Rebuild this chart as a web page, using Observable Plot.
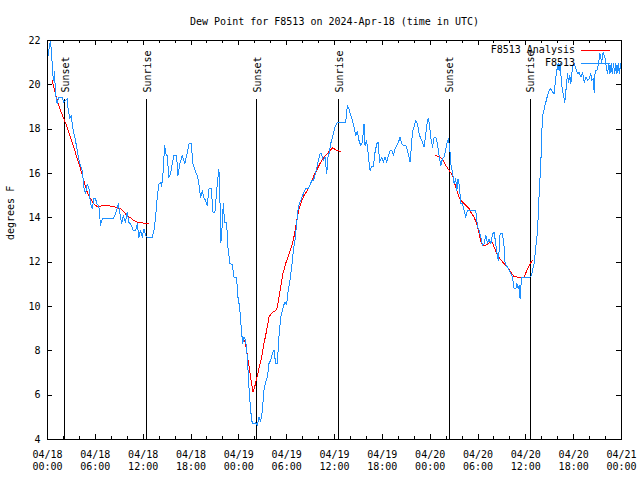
<!DOCTYPE html>
<html><head><meta charset="utf-8">
<script src="https://cdn.jsdelivr.net/npm/d3@7"></script>
<script src="https://cdn.jsdelivr.net/npm/@observablehq/plot@0.6"></script>
<style>body{margin:0;background:#fff}svg{display:block}</style>
</head><body><div id="chart"></div>
<script>
const title = "Dew Point for F8513 on 2024-Apr-18 (time in UTC)";
const yLabel = "degrees F";
const startTime = "2024-04-18T00:00:00Z";
const endTime = "2024-04-21T00:00:00Z";
const yTicks = [4, 6, 8, 10, 12, 14, 16, 18, 20, 22];
const seriesNames = ["F8513 Analysis", "F8513"];
const seriesColors = ["#ff0000", "#1e90ff"];
const eventHours = [2.17, 12.46, 26.27, 36.56, 50.37, 60.54];
const eventLabels = ["Sunset", "Sunrise", "Sunset", "Sunrise", "Sunset", "Sunrise"];

// F8513 observations (hours since start, degrees F)
const obsHours = [0.04,0.19,0.38,0.48,0.59,0.69,0.79,0.88,1.00,1.22,1.42,1.85,2.05,2.26,2.47,2.55,2.80,2.97,3.23,3.51,3.80,4.05,4.36,4.56,4.77,4.98,5.18,5.40,5.61,5.81,6.02,6.24,6.44,6.65,6.87,7.28,8.16,8.32,8.66,8.87,9.08,9.29,9.50,9.79,10.00,10.20,10.42,10.76,11.05,11.26,11.46,11.67,11.89,12.09,12.30,12.51,13.14,13.34,13.56,13.77,13.97,14.18,14.31,14.52,14.69,14.85,15.02,15.23,15.44,15.65,15.85,16.19,16.36,16.61,16.91,17.11,17.23,17.54,17.74,18.04,18.24,18.58,18.79,18.99,19.20,19.42,19.62,19.83,20.05,20.25,20.55,20.75,21.00,21.21,21.38,21.50,21.63,21.75,21.93,22.05,22.22,22.47,22.63,22.88,23.18,23.38,23.72,23.89,24.10,24.31,24.48,24.64,24.85,25.07,25.27,25.48,25.69,25.89,26.11,26.32,26.52,26.74,26.95,27.15,27.36,27.58,27.78,27.99,28.20,28.41,28.62,28.83,29.03,29.25,29.46,29.75,30.00,30.16,30.41,30.63,30.84,31.04,31.25,31.42,31.59,31.84,32.10,32.38,32.67,32.92,33.14,33.35,33.55,33.76,33.98,34.18,34.35,34.61,34.81,35.02,35.18,35.36,35.52,35.74,35.94,36.15,36.36,37.41,37.62,37.82,38.03,38.25,38.45,38.66,38.87,39.07,39.29,39.50,39.70,39.83,40.00,40.13,40.33,40.46,40.63,40.88,41.05,41.30,41.46,41.67,41.92,42.14,42.34,42.55,42.71,42.97,43.18,43.39,43.59,43.81,44.02,44.22,44.43,44.65,44.94,45.15,45.35,45.48,45.65,45.78,45.98,46.19,46.41,46.61,46.82,47.03,47.23,47.45,47.66,47.79,47.95,48.07,48.29,48.49,48.70,48.92,49.12,49.33,49.54,49.74,49.96,50.17,50.30,50.46,50.59,50.80,51.00,51.21,51.34,51.50,51.68,51.84,52.05,52.25,52.47,52.68,53.72,53.94,54.14,54.35,54.56,54.76,54.98,55.19,55.39,55.61,55.82,56.02,56.23,56.45,56.57,56.77,57.07,57.28,57.40,57.70,57.90,58.12,58.33,58.53,58.74,58.87,59.03,59.16,59.28,59.46,60.54,60.71,60.84,61.04,61.25,61.47,61.67,61.88,62.01,62.13,62.30,62.51,62.72,62.92,63.14,63.35,63.55,63.76,63.89,64.05,64.18,64.30,64.48,64.68,64.89,65.11,65.23,65.36,65.52,65.65,65.86,66.06,66.27,66.49,66.69,66.90,67.12,67.32,67.53,67.74,67.94,68.16,68.28,68.45,68.57,68.70,68.91,69.12,69.29,69.50,69.70,69.91,70.04,70.25,70.42,70.54,70.71,70.83,71.01,71.14,71.30,71.43,71.59,71.72,71.89,71.99];
const obsValues = [21.25,21.6,22.0,21.5,20.95,20.4,20.2,20.6,19.6,19.15,19.45,19.45,19.2,19.3,19.37,19.0,18.47,18.6,17.94,17.49,16.9,16.44,16.14,15.38,15.08,15.53,15.38,14.63,14.42,14.86,14.86,14.6,14.55,13.66,13.96,13.96,13.96,14.0,14.33,14.63,14.2,13.73,14.1,13.8,14.25,13.8,13.73,13.43,13.43,13.73,13.13,13.43,13.13,13.5,13.2,13.13,13.13,13.4,14.03,14.93,15.53,15.6,15.4,16.14,17.26,16.9,16.8,15.83,15.98,16.44,16.81,16.81,15.9,16.44,16.81,16.6,16.44,16.96,17.34,17.34,16.44,16.06,15.9,15.53,14.93,15.23,14.9,14.78,14.56,15.31,15.31,14.26,14.26,15.16,15.83,16.21,14.8,12.9,13.73,14.63,13.8,13.8,12.68,11.93,11.9,11.33,11.3,10.42,9.97,9.0,8.32,8.62,8.5,7.71,6.36,5.31,4.71,4.71,4.75,4.63,5.01,4.8,5.31,6.21,6.59,6.8,7.42,7.57,7.87,8.02,7.42,7.42,8.62,9.52,9.82,10.2,10.1,10.65,11.17,11.77,12.53,12.98,13.73,14.33,14.63,14.86,15.1,15.31,15.31,15.46,15.68,15.68,15.91,16.21,16.59,16.89,16.9,16.59,16.75,15.98,16.75,16.96,17.34,17.64,17.94,18.17,18.32,18.32,19.07,18.9,18.62,18.4,18.09,17.72,17.9,17.49,17.26,17.4,18.24,17.26,17.49,17.26,16.51,16.14,16.3,16.3,16.89,17.34,17.4,16.51,16.74,16.51,16.74,16.51,16.74,17.04,17.04,16.81,17.11,17.26,17.4,17.64,17.34,17.26,17.26,17.04,16.74,16.51,17.26,17.87,18.1,18.39,18.24,17.79,17.57,17.41,17.19,17.79,18.39,18.5,18.1,17.64,17.19,17.64,17.64,17.34,16.81,16.36,16.66,16.74,17.11,17.49,17.56,17.11,16.44,16.06,15.53,15.76,15.23,15.76,15.38,14.63,14.63,14.33,14.03,14.33,14.33,13.58,13.43,13.13,12.75,12.83,13.2,12.83,13.05,12.83,13.28,13.35,12.83,12.23,12.08,13.28,13.28,12.68,11.93,11.78,11.63,11.48,11.33,10.8,10.8,11.03,10.8,10.95,10.35,11.33,11.33,11.4,11.63,11.93,12.68,13.43,15.08,16.44,17.94,18.62,18.92,19.22,19.52,19.74,19.82,19.67,19.6,20.35,20.65,20.95,20.65,20.95,20.05,19.6,19.22,20.05,20.5,20.12,20.42,20.05,20.8,20.95,20.72,20.5,20.57,20.35,20.57,20.12,20.35,20.2,20.27,20.5,20.2,20.27,19.67,20.65,20.65,20.95,21.4,21.02,21.47,21.25,20.95,20.5,20.95,20.5,20.95,20.5,20.95,20.5,20.95,20.5,20.95,20.5,20.95,20.5];

// F8513 Analysis (null separates segments)
const anaHours = [0.59,0.79,1.22,1.63,2.05,2.47,2.89,3.30,3.73,4.14,4.56,4.98,5.40,5.81,6.24,6.65,7.49,8.32,9.16,9.58,10.00,10.42,10.83,11.26,12.09,12.72,null,24.73,24.94,25.23,25.48,25.77,25.98,26.23,26.52,26.82,27.15,27.49,27.78,28.20,28.62,28.83,29.03,29.25,29.53,29.87,30.29,30.71,31.00,31.34,31.54,31.84,32.17,32.60,33.01,33.43,33.85,34.27,34.68,35.11,35.43,35.77,36.15,36.69,null,48.70,49.12,49.54,49.96,50.37,50.80,51.21,51.63,52.05,52.47,52.88,53.09,53.51,53.85,54.14,54.44,54.76,55.19,55.61,55.82,56.02,56.36,56.77,57.28,57.70,58.12,58.53,58.96,59.79,60.04,60.31,60.54,60.84];
const anaValues = [20.2,19.9,19.3,18.84,18.47,18.09,17.64,17.19,16.66,16.21,15.68,15.16,14.86,14.63,14.51,14.53,14.56,14.5,14.41,14.26,14.1,14.0,13.88,13.8,13.76,13.73,null,8.47,8.09,7.42,6.81,6.14,6.36,6.74,7.19,7.64,8.32,8.92,9.52,9.74,9.82,9.97,10.42,10.87,11.48,11.93,12.38,12.83,13.28,14.03,14.41,14.71,15.01,15.23,15.53,15.91,16.21,16.51,16.74,16.89,17.04,17.16,17.07,16.99,null,16.81,16.74,16.66,16.36,16.14,15.91,15.38,14.93,14.71,14.56,14.41,14.26,14.03,13.73,13.28,12.83,12.75,12.8,12.95,12.9,12.68,12.38,12.15,11.93,11.78,11.55,11.35,11.33,11.33,11.55,11.78,11.93,12.08];

const t0 = new Date(startTime).getTime();
const toDate = h => (h == null ? null : new Date(t0 + h * 3600e3));
const obs = obsHours.map((h, i) => ({t: toDate(h), v: obsValues[i]}));
const ana = anaHours.map((h, i) => ({t: toDate(h), v: anaValues[i]}));
const events = eventHours.map((h, i) => ({t: toDate(h), label: eventLabels[i]}));

const W = 640, H = 480, mL = 47, mR = 19, mT = 40, mB = 41;
const innerW = W - mL - mR, innerH = H - mT - mB;
const font = "DejaVu Sans Mono";
const crisp = "crispEdges";
const x0 = new Date(startTime), x1 = new Date(endTime);
const major = d3.utcHour.every(6).range(x0, new Date(x1.getTime() + 1));
const minor = d3.utcHour.every(2).range(x0, new Date(x1.getTime() + 1)).filter(d => d.getUTCHours() % 6 !== 0);
const p2 = n => String(n).padStart(2, "0");
const fmt = d => `${p2(d.getUTCMonth() + 1)}/${p2(d.getUTCDate())}\n${p2(d.getUTCHours())}:${p2(d.getUTCMinutes())}`;

const chart = Plot.plot({
  width: W, height: H,
  marginLeft: mL, marginRight: mR, marginTop: mT, marginBottom: mB,
  style: {fontFamily: font, fontSize: "10px", background: "white", color: "black", overflow: "visible"},
  x: {type: "utc", domain: [x0, x1]},
  y: {domain: [4, 22]},
  marks: [
    Plot.ruleX(events, {x: "t", insetTop: 59, stroke: "black", shapeRendering: crisp}),
    Plot.text(events, {x: "t", text: "label", frameAnchor: "top", rotate: -90, textAnchor: "start", dy: 52, dx: -3, fill: "black"}),
    Plot.line(ana, {x: "t", y: "v", stroke: seriesColors[0], strokeWidth: 1, shapeRendering: crisp}),
    Plot.line(obs, {x: "t", y: "v", stroke: seriesColors[1], strokeWidth: 1, shapeRendering: crisp}),
    Plot.frame({stroke: "black", shapeRendering: crisp}),
    Plot.tickX(major, {x: d => d, insetTop: innerH - 5, stroke: "black", shapeRendering: crisp}),
    Plot.tickX(minor, {x: d => d, insetTop: innerH - 3, stroke: "black", shapeRendering: crisp}),
    Plot.tickX(major, {x: d => d, insetBottom: innerH - 5, stroke: "black", shapeRendering: crisp}),
    Plot.tickX(minor, {x: d => d, insetBottom: innerH - 3, stroke: "black", shapeRendering: crisp}),
    Plot.tickY(yTicks, {y: d => d, insetRight: innerW - 5, stroke: "black", shapeRendering: crisp}),
    Plot.tickY(yTicks, {y: d => d, insetLeft: innerW - 5, stroke: "black", shapeRendering: crisp}),
    Plot.axisX(major, {tickSize: 0, tickPadding: 9, tickFormat: fmt, lineHeight: 1.27, label: null, fill: "black"}),
    Plot.axisY(yTicks, {tickSize: 0, tickPadding: 7, label: null, fill: "black"}),
    Plot.text([yLabel], {frameAnchor: "left", dx: -37, rotate: -90, fill: "black"}),
    Plot.text([title], {frameAnchor: "top", dy: -23, fill: "black"})
  ]
});
document.getElementById("chart").appendChild(chart);

// legend (top-right, inside the frame)
const svg = d3.select(chart);
const lg = svg.append("g").attr("font-family", font).attr("font-size", 10);
seriesNames.forEach((name, i) => {
  const yy = mT + 10 + i * 13;
  lg.append("text").attr("x", W - mR - 46).attr("y", yy).attr("dy", "0.32em")
    .attr("text-anchor", "end").attr("fill", "black").text(name);
  lg.append("line").attr("x1", W - mR - 40).attr("x2", W - mR - 11)
    .attr("y1", yy).attr("y2", yy).attr("stroke", seriesColors[i]).attr("stroke-width", 1)
    .attr("shape-rendering", crisp);
});
</script>
</body></html>
